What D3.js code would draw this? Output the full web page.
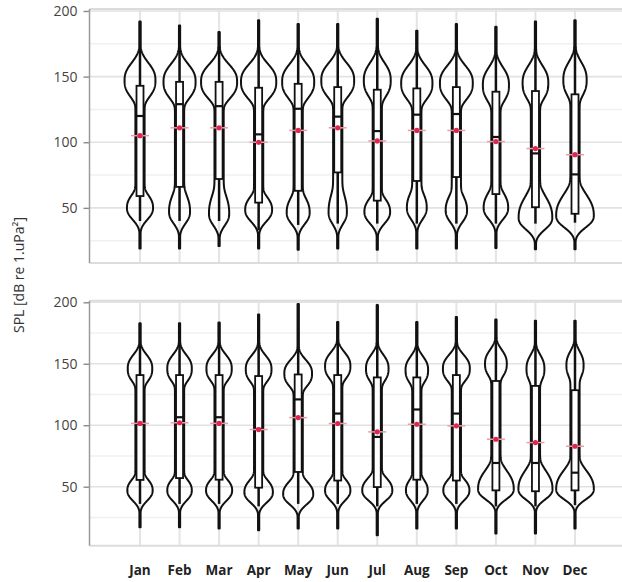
<!DOCTYPE html>
<html><head><meta charset="utf-8">
<script src="https://cdn.jsdelivr.net/npm/d3@7"></script>
<style>html,body{margin:0;padding:0;background:#fff;} svg{display:block;}</style>
</head><body><svg id="chart" width="622" height="582"></svg>
<script>
const months = ["Jan","Feb","Mar","Apr","May","Jun","Jul","Aug","Sep","Oct","Nov","Dec"];
const yTicks = [50,100,150,200];
const yMinorTicks = [25,75,125,175];
const yTitle = "SPL [dB re 1.uPa²]";

// ---- Panel A (top) ----
const aMax = [192,189,184,193,190,190,194,185,190,188,192,193];
const aMin = [19,19,21,19,18,19,18,19,19,19.5,18.5,18.5];
const aQ3 = [143,146,146,141.5,144.5,142,140,141,142,138.5,139,136.5];
const aQ1 = [59,66,72,54,63,77,55.5,70.5,73.5,60.5,50.5,45.5];
const aMedian = [120,129,127.5,106,125.5,119.5,108.5,121,121.5,104,91.5,75.5];
const aMean = [105,111,111,100,109,111,101,109,109,100.5,95.2,90.5];
const aWhiskerLo = [40,40,40,33,37,38,38,38,38,38,38,38.7];
const aUpperMode = [147,146,146,146,146,147,147,145,145,143.6,145,147.5];
const aUpperDensity = [0.77,0.80,0.90,0.88,0.80,0.82,0.67,0.78,0.82,0.65,0.64,0.58];
const aLowerMode = [50,47,45.5,48.5,46.5,46.5,47,50,48,50,42.5,44];
const aLowerDensity = [0.65,0.52,0.50,0.67,0.57,0.45,0.64,0.49,0.53,0.61,0.84,0.94];
const aLowerSpreadUp = [10,13.5,15,10,11.5,15,10,11.5,11.5,11.5,16,16];

// ---- Panel B (bottom) ----
const bMax = [183,183,183.5,190,198.6,184,197.8,184,188,186,185,185];
const bMin = [17,17,16,14.5,16,16,10.5,16,16,12,12,16];
const bQ3 = [140.8,140.8,140.8,140,141.3,140.8,138.9,138.9,140.8,136,132,128.5];
const bQ1 = [55.5,57,55.7,49.2,62,55,49.7,55.7,55,47,46.3,47];
const bMedian = [101,106.5,106.5,97,121,109.5,90.5,112.8,109.5,69.3,69.3,61.4];
const bMean = [101.5,102,101.5,96.5,106.2,101.4,94.6,100.8,99.5,88.6,85.9,82.9];
const bWhiskerLo = [36,36,36,34,36,36,34,36,36,34,34,35];
const bUpperMode = [146,146,146,145.5,142,148,146,144.8,146,150,146,149];
const bUpperDensity = [0.61,0.61,0.63,0.64,0.69,0.63,0.56,0.56,0.67,0.54,0.44,0.42];
const bLowerMode = [47,47,47,45.5,44,47,47,47,47,48,48,48];
const bLowerDensity = [0.63,0.61,0.65,0.71,0.75,0.63,0.75,0.54,0.65,0.89,0.85,0.94];
const bLowerSpreadUp = [9,9,9,10,10,9,10,9,9,15,15,15];

const svg = d3.select("#chart");
const x = d3.scalePoint().domain(months).range([140, 575]);
const wScale = d3.scaleLinear().domain([0, 1]).range([0, 20]);
const plotLeft = 89.5, plotRight = 622;

const panels = [
  { y: d3.scaleLinear().domain([8, 201.5]).range([263, 9]), upperSpread: 12.5, lowerSpreadDown: 8.5,
    max: aMax, min: aMin, q3: aQ3, q1: aQ1, med: aMedian, mean: aMean, wlo: aWhiskerLo,
    uM: aUpperMode, uD: aUpperDensity, lM: aLowerMode, lD: aLowerDensity, lSu: aLowerSpreadUp },
  { y: d3.scaleLinear().domain([2, 201.3]).range([545.7, 300.7]), upperSpread: 10.5, lowerSpreadDown: 8,
    max: bMax, min: bMin, q3: bQ3, q1: bQ1, med: bMedian, mean: bMean, wlo: bWhiskerLo,
    uM: bUpperMode, uD: bUpperDensity, lM: bLowerMode, lD: bLowerDensity, lSu: bLowerSpreadUp }
];

const neckD = 0.23, tailD = 0.03;
const g = (d, s, pw) => Math.exp(-0.5 * Math.pow(Math.abs(d / s), pw));

panels.forEach(p => {
  const y = p.y;
  const [y0, y1] = y.range();
  const G = svg.append("g");
  G.selectAll(".minor").data(yMinorTicks).join("line")
    .attr("x1", plotLeft).attr("x2", plotRight)
    .attr("y1", d => y(d)).attr("y2", d => y(d))
    .attr("stroke", "#f0f0f0").attr("stroke-width", 1.5);
  G.selectAll(".major").data(yTicks).join("line")
    .attr("x1", plotLeft).attr("x2", plotRight)
    .attr("y1", d => y(d)).attr("y2", d => y(d))
    .attr("stroke", "#e2e2e2").attr("stroke-width", 1.6);
  G.selectAll(".vg").data(months).join("line")
    .attr("x1", d => x(d)).attr("x2", d => x(d))
    .attr("y1", y1).attr("y2", y0)
    .attr("stroke", "#e4e4e4").attr("stroke-width", 2);
  [y1, y0].forEach(yy => G.append("line").attr("x1", plotLeft).attr("x2", plotRight)
    .attr("y1", yy).attr("y2", yy).attr("stroke", "#dcdcdc").attr("stroke-width", 2));
  const ax = G.append("g").attr("transform", `translate(${plotLeft},0)`)
    .call(d3.axisLeft(y).tickValues(yTicks).tickSize(6).tickPadding(6).tickSizeOuter(0));
  ax.select(".domain").remove();
  ax.selectAll(".tick line").attr("stroke", "#8a8a8a").attr("stroke-width", 1.4);
  ax.selectAll(".tick text").attr("fill", "#444").style("font-family", "'Open Sans', sans-serif").style("font-size", "14px");
  G.append("line").attr("x1", plotLeft).attr("x2", plotLeft).attr("y1", y1).attr("y2", y0)
    .attr("stroke", "#9a9a9a").attr("stroke-width", 1.5);

  months.forEach((m, i) => {
    const cx = x(m);
    const hw = v => {
      const U = p.uD[i] * g(v - p.uM[i], p.upperSpread, 2.6);
      const L = p.lD[i] * g(v - p.lM[i], v > p.lM[i] ? p.lSu[i] : p.lowerSpreadDown, 2.4);
      let N = neckD;
      if (v > p.uM[i]) N *= g(v - p.uM[i], 6, 2);
      else if (v < p.lM[i]) N *= g(v - p.lM[i], 5, 2);
      return Math.pow(U ** 4 + L ** 4 + N ** 4 + tailD ** 4, 0.25);
    };
    const vals = d3.range(p.min[i], p.max[i], 0.5).concat([p.max[i]]);
    const area = d3.area()
      .x0(v => cx - wScale(hw(v))).x1(v => cx + wScale(hw(v)))
      .y(v => y(v)).curve(d3.curveLinear);
    G.append("path").attr("d", area(vals)).attr("fill", "none")
      .attr("stroke", "#111").attr("stroke-width", 2).attr("stroke-linejoin", "round");
    G.append("line").attr("x1", cx).attr("x2", cx).attr("y1", y(p.q3[i])).attr("y2", y(p.max[i]))
      .attr("stroke", "#111").attr("stroke-width", 2.5);
    G.append("line").attr("x1", cx).attr("x2", cx).attr("y1", y(p.q1[i])).attr("y2", y(p.wlo[i]))
      .attr("stroke", "#111").attr("stroke-width", 2.5);
    G.append("rect").attr("x", cx - 3.5).attr("width", 7)
      .attr("y", y(p.q3[i])).attr("height", y(p.q1[i]) - y(p.q3[i]))
      .attr("fill", "#fff").attr("stroke", "#111").attr("stroke-width", 1.8);
    G.append("line").attr("x1", cx - 3.5).attr("x2", cx + 3.5)
      .attr("y1", y(p.med[i])).attr("y2", y(p.med[i]))
      .attr("stroke", "#111").attr("stroke-width", 2.2);
    G.append("line").attr("x1", cx - 9).attr("x2", cx + 9)
      .attr("y1", y(p.mean[i])).attr("y2", y(p.mean[i]))
      .attr("stroke", "#f09aa8").attr("stroke-width", 1.5);
    G.append("circle").attr("cx", cx).attr("cy", y(p.mean[i])).attr("r", 2.6)
      .attr("fill", "#e0264f");
  });
});

svg.append("g").selectAll("text").data(months).join("text")
  .attr("x", d => x(d)).attr("y", 575)
  .attr("text-anchor", "middle")
  .style("font-family", "'Open Sans', sans-serif").style("font-weight", 700).style("font-size", "13.5px")
  .attr("fill", "#222").text(d => d);

svg.append("text").attr("transform", "translate(24,275) rotate(-90)")
  .attr("text-anchor", "middle")
  .style("font-family", "'Open Sans', sans-serif").style("font-size", "14px")
  .attr("fill", "#333").text(yTitle);
</script></body></html>
